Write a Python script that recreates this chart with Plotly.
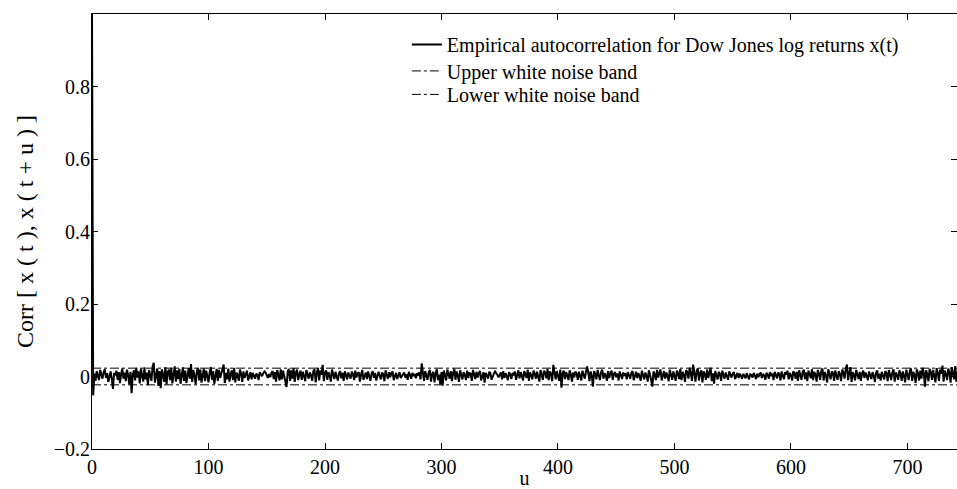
import plotly.graph_objects as go

# Sample autocorrelation of Dow Jones daily log returns, lags u = 0, 1, 2, ...
acf = [
    1.000, -0.052, 0.008, -0.012, 0.015, 0.004, -0.010, 0.018, 0.002, -0.006, 0.012, 0.020, -0.004, 0.009, -0.015, 0.006, 0.014, -0.008, -0.034, 0.010,
    0.003, 0.016, -0.009, 0.012, -0.018, 0.007, 0.022, -0.006, 0.011, -0.013, 0.019, 0.004, -0.021, 0.013, -0.046, 0.006, 0.017, -0.011, 0.024, -0.003,
    0.014, -0.019, 0.021, 0.002, -0.014, 0.025, -0.008, 0.011, -0.024, 0.018, 0.006, -0.012, 0.027, 0.038, -0.017, 0.009, 0.022, -0.026, 0.015, -0.032,
    0.020, 0.004, -0.015, 0.026, -0.022, 0.012, 0.019, -0.010, 0.024, -0.019, 0.008, 0.028, -0.014, 0.017, -0.007, 0.021, -0.020, 0.013, 0.025, -0.012,
    0.016, -0.018, 0.009, 0.023, -0.006, 0.034, -0.015, 0.018, 0.002, -0.021, 0.014, 0.024, -0.011, 0.019, -0.017, 0.007, 0.022, -0.013, 0.016, 0.001,
    -0.016, 0.012, 0.026, -0.009, 0.015, -0.020, 0.008, 0.021, -0.012, 0.018, -0.004, 0.013, 0.020, 0.033, -0.018, 0.010, -0.008, 0.022, -0.014, 0.006,
    0.017, -0.010, 0.024, -0.016, 0.011, 0.003, -0.012, 0.019, 0.008, -0.015, 0.014, -0.004, 0.009, 0.016, -0.011, 0.005, 0.012, -0.008, 0.010, 0.002,
    -0.006, 0.008, 0.004, -0.010, 0.012, 0.006, 0.001, 0.009, 0.014, 0.011, 0.003, -0.004, 0.007, -0.002, 0.010, 0.015, -0.007, 0.012, -0.014, 0.018,
    0.005, -0.011, 0.020, -0.008, 0.016, 0.002, -0.018, -0.029, 0.014, 0.021, -0.012, 0.017, -0.006, 0.023, -0.015, 0.011, 0.019, -0.010, 0.006, 0.016,
    -0.009, 0.013, 0.002, -0.013, 0.018, 0.007, -0.006, 0.011, 0.004, -0.012, 0.015, 0.020, -0.016, 0.009, 0.024, -0.011, 0.016, 0.005, 0.032, -0.013,
    0.010, 0.017, -0.009, 0.012, 0.003, -0.014, 0.019, 0.006, -0.007, 0.013, 0.001, -0.011, 0.008, 0.015, -0.005, 0.010, -0.012, 0.014, 0.004, -0.008,
    0.011, 0.002, -0.006, 0.013, 0.007, -0.010, 0.016, -0.003, 0.009, 0.012, -0.014, 0.006, 0.018, -0.009, 0.004, 0.011, -0.007, 0.014, 0.001, -0.012,
    0.008, 0.015, -0.004, 0.010, -0.011, 0.005, 0.013, 0.002, -0.008, 0.011, 0.006, -0.013, 0.017, 0.004, -0.006, 0.012, -0.002, 0.009, 0.014, -0.010,
    0.003, 0.010, -0.007, 0.006, 0.012, -0.004, 0.002, 0.008, 0.011, -0.003, 0.006, -0.009, 0.013, 0.004, -0.006, 0.010, 0.001, 0.007, -0.005, 0.009,
    0.003, 0.012, -0.008, 0.036, 0.004, -0.012, 0.015, 0.002, -0.009, 0.011, 0.018, -0.014, 0.007, 0.013, -0.016, 0.009, 0.020, -0.010, 0.005, -0.022,
    0.012, -0.025, 0.016, 0.004, -0.011, 0.019, 0.008, -0.006, 0.015, -0.013, 0.010, 0.021, -0.009, 0.014, 0.003, -0.015, 0.017, 0.006, -0.008, 0.012,
    0.004, -0.010, 0.016, -0.004, 0.011, 0.007, -0.012, 0.018, 0.002, -0.007, 0.013, -0.003, 0.009, 0.015, -0.011, 0.006, 0.012, -0.017, 0.010, 0.004,
    -0.006, 0.013, 0.009, -0.009, 0.002, 0.008, 0.014, 0.010, 0.004, -0.002, 0.006, 0.011, -0.008, 0.015, -0.004, 0.009, 0.001, -0.010, 0.012, 0.005,
    -0.007, 0.010, 0.003, 0.014, -0.009, 0.007, 0.017, -0.005, 0.012, 0.002, -0.011, 0.015, 0.006, -0.004, 0.019, -0.012, 0.011, 0.004, -0.008, 0.016,
    0.008, -0.006, 0.013, 0.001, -0.014, 0.018, 0.005, -0.009, 0.016, 0.010, -0.005, 0.021, -0.010, 0.014, 0.007, -0.013, 0.032, 0.010, -0.008, 0.015,
    0.004, -0.012, 0.019, -0.031, 0.009, 0.016, -0.007, 0.012, 0.003, -0.010, 0.017, 0.006, -0.014, 0.011, -0.002, 0.014, 0.008, -0.009, 0.013, 0.001,
    -0.011, 0.016, 0.005, -0.006, 0.012, 0.028, 0.010, -0.013, 0.014, 0.002, -0.028, 0.015, 0.007, -0.008, 0.018, 0.004, -0.010, 0.012, 0.019, -0.006,
    0.009, 0.003, -0.012, 0.015, -0.004, 0.010, 0.016, -0.009, 0.007, 0.012, -0.002, 0.008, -0.011, 0.014, 0.005, -0.007, 0.011, 0.002, 0.009, -0.008,
    0.012, 0.004, -0.006, 0.010, 0.015, -0.010, 0.006, 0.013, -0.004, 0.009, 0.001, -0.012, 0.016, 0.007, -0.008, 0.011, 0.003, -0.014, 0.017, 0.005,
    -0.009, -0.028, 0.014, 0.006, -0.010, 0.018, -0.003, 0.012, 0.020, -0.011, 0.008, 0.015, -0.006, 0.011, 0.002, -0.013, 0.019, 0.007, -0.009, 0.014,
    0.004, -0.012, 0.016, 0.009, -0.007, 0.021, -0.010, 0.013, 0.005, -0.015, 0.018, 0.011, -0.006, 0.024, 0.008, -0.012, 0.033, 0.012, -0.014, 0.016,
    0.022, -0.011, 0.010, 0.017, -0.016, 0.014, 0.006, -0.009, 0.019, -0.004, 0.012, 0.024, -0.013, 0.009, -0.020, 0.015, 0.003, -0.008, 0.013, 0.007,
    -0.012, 0.016, 0.004, -0.006, 0.011, 0.001, -0.009, 0.014, 0.006, -0.003, 0.009, 0.012, -0.007, 0.005, 0.010, -0.004, 0.008, 0.002, -0.006, 0.007,
    0.003, -0.005, 0.009, 0.001, -0.008, 0.006, 0.004, -0.003, 0.010, 0.002, -0.007, 0.008, -0.002, 0.006, 0.011, -0.004, 0.007, 0.003, -0.009, 0.010,
    0.005, -0.006, 0.012, 0.001, 0.008, -0.010, 0.013, 0.004, -0.005, 0.011, 0.007, -0.011, 0.014, 0.002, -0.007, 0.012, 0.005, 0.016, -0.008, 0.010,
    0.003, -0.011, 0.015, 0.008, -0.006, 0.013, -0.012, 0.017, 0.004, -0.009, 0.012, 0.019, -0.007, 0.011, -0.013, 0.016, 0.006, -0.005, 0.020, -0.010,
    0.013, 0.005, -0.014, 0.018, 0.008, -0.009, 0.015, 0.022, -0.011, 0.012, 0.003, -0.016, 0.020, 0.006, -0.008, 0.014, 0.010, -0.012, 0.017, 0.002,
    -0.009, 0.015, 0.007, -0.013, 0.019, 0.011, -0.006, 0.021, 0.033, -0.010, 0.014, 0.026, -0.015, 0.012, 0.005, -0.011, 0.018, 0.008, -0.007, 0.013,
    -0.012, 0.009, 0.016, -0.004, 0.011, 0.002, -0.010, 0.014, 0.006, -0.007, 0.012, 0.003, -0.015, 0.010, 0.017, -0.006, 0.008, -0.011, 0.013, 0.004,
    -0.008, 0.015, 0.009, -0.013, 0.018, 0.005, -0.010, 0.012, 0.020, -0.014, 0.011, 0.004, -0.009, 0.017, 0.008, -0.012, 0.014, 0.002, -0.016, 0.019,
    0.007, -0.010, 0.015, 0.022, -0.012, 0.013, 0.004, -0.018, 0.020, 0.009, -0.011, 0.016, -0.006, 0.024, 0.010, -0.028, 0.017, 0.006, -0.013, 0.021,
    0.012, -0.009, 0.018, 0.004, -0.016, 0.023, 0.010, -0.012, 0.019, 0.008, 0.030, -0.014, 0.016, 0.007, -0.010, 0.022, 0.012, -0.017, 0.026, 0.009,
    -0.008, 0.029, -0.015, 0.012, 0.004, -0.009, 0.014, 0.006, -0.011, 0.010,
]
lags = list(range(len(acf)))

# White-noise confidence band
band_upper = 0.023
band_lower = -0.023
band_lags = [lags[0], lags[-1]]

x_ticks = [0, 100, 200, 300, 400, 500, 600, 700]
y_ticks = [-0.2, 0, 0.2, 0.4, 0.6, 0.8]
y_tick_labels = ["\u22120.2", "0", "0.2", "0.4", "0.6", "0.8"]

serif = "Liberation Serif"

fig = go.Figure()
fig.add_trace(go.Scatter(
    x=lags, y=acf, mode="lines",
    line=dict(color="black", width=2),
    name="Empirical autocorrelation for Dow Jones log returns x(t)",
    legend="legend",
))
fig.add_trace(go.Scatter(
    x=band_lags, y=[band_upper, band_upper], mode="lines",
    line=dict(color="black", width=1, dash="dashdot"),
    name="Upper white noise band",
    legend="legend2",
))
fig.add_trace(go.Scatter(
    x=band_lags, y=[band_lower, band_lower], mode="lines",
    line=dict(color="black", width=1, dash="dashdot"),
    name="Lower white noise band",
    legend="legend3",
))

axis_common = dict(
    showgrid=False, zeroline=False, automargin=False,
    showline=True, linecolor="black", linewidth=1, mirror="ticks",
    ticks="inside", ticklen=6, tickcolor="black", tickwidth=1,
    tickfont=dict(family=serif, size=20, color="black"),
)

# one legend box per entry so the rows sit tightly stacked
legend_common = dict(
    x=0.364, xanchor="left", yanchor="top",
    bgcolor="rgba(0,0,0,0)", borderwidth=0,
    font=dict(family=serif, size=20, color="black"),
)

fig.update_layout(
    width=957, height=489,
    margin=dict(l=92, r=0, t=14, b=40),
    paper_bgcolor="white", plot_bgcolor="white",
    font=dict(family=serif, color="black"),
    xaxis=dict(
        range=[0, 742.5], tickvals=x_ticks,
        title=dict(text="u", font=dict(family=serif, size=20), standoff=11),
        **axis_common,
    ),
    yaxis=dict(
        range=[-0.2, 1.0], tickvals=y_ticks, ticktext=y_tick_labels,
        ticklabelstandoff=-3,
        title=dict(text="Corr [ x ( t ), x ( t + u ) ]", font=dict(family=serif, size=24), standoff=13),
        **axis_common,
    ),
    legend=dict(y=0.975, **legend_common),
    legend2=dict(y=0.914, **legend_common),
    legend3=dict(y=0.860, **legend_common),
    showlegend=True,
)

fig.write_html("out.html")
